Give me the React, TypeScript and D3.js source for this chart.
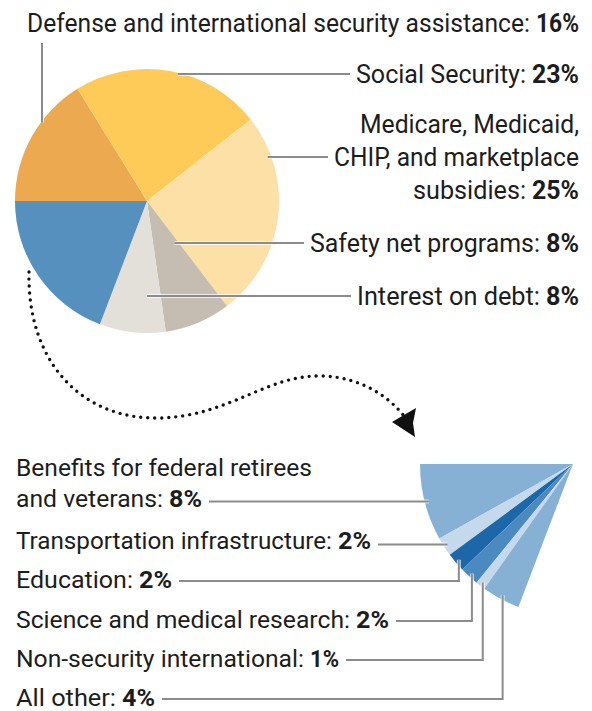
import React from "react";
import * as d3 from "d3";

// ---------- data ----------
const pieCategories = [
  "Defense and international security assistance",
  "Social Security",
  "Medicare, Medicaid, CHIP, and marketplace subsidies",
  "Safety net programs",
  "Interest on debt",
  "Other",
];
const pieValues = [16, 23, 25, 8, 8, 19];
const pieLabelLines = [
  ["Defense and international security assistance:"],
  ["Social Security:"],
  ["Medicare, Medicaid,", "CHIP, and marketplace", "subsidies:"],
  ["Safety net programs:"],
  ["Interest on debt:"],
];

const fanCategories = [
  "Benefits for federal retirees and veterans",
  "Transportation infrastructure",
  "Education",
  "Science and medical research",
  "Non-security international",
  "All other",
];
const fanValues = [8, 2, 2, 2, 1, 4];
const fanLabelLines = [
  ["Benefits for federal retirees", "and veterans:"],
  ["Transportation infrastructure:"],
  ["Education:"],
  ["Science and medical research:"],
  ["Non-security international:"],
  ["All other:"],
];

// ---------- styles / layout ----------
const W = 592;
const H = 711;
const pieColors = ["#EDA94F", "#FECB58", "#FDE0A5", "#C5BDB1", "#E3E0DA", "#5690BF"];
const fanColors = ["#86B0D4", "#C4D9EC", "#1B67A8", "#4B8AC1", "#C4D9EC", "#86B0D4"];
const FONT = "Roboto, 'Open Sans', sans-serif";
const FS_UP = 25;
const FS_LOW = 24;
const TEXT = "#1d1d1d";
const LINE = "#8c8c8c";

const PIE = { cx: 147, cy: 201, r: 132 };
const FAN = { cx: 573, cy: 464, r: 153 };

// upper labels: right aligned
const upRight = 579;
const upBaselines = [[32], [83], [133, 166, 199], [252], [305]];
const upWidths = [[552], [223], [219, 245, 166], [269], [222]];
const upLeaderRadius = [0.993, 0.99, 0.973, 0.38, 0.717];
const defenseLeaderX = 42;

// lower labels: left aligned
const lowLeft = 16;
const lowBaselines = [[476, 507], [549], [588], [628], [667], [706]];
const lowWidths = [[296, 186], [355], [156], [373], [323], [139]];

const boldCharW: Record<string, number> = { "1": 10, "%": 19 };
const boldWidth = (s: string) =>
  s.split("").reduce((acc, c) => acc + (boldCharW[c] ?? 14), 0);
const GAP = 6;

function Label({
  x,
  y,
  width,
  text,
  value,
  fs,
}: {
  x: number;
  y: number;
  width: number;
  text: string;
  value?: string;
  fs: number;
}) {
  if (!value) {
    return (
      <text
        x={x}
        y={y}
        textLength={width}
        lengthAdjust="spacingAndGlyphs"
        fontFamily={FONT}
        fontSize={fs}
        fill={TEXT}
      >
        {text}
      </text>
    );
  }
  const bw = boldWidth(value);
  const nw = width - bw - GAP;
  return (
    <g>
      <text
        x={x}
        y={y}
        textLength={nw}
        lengthAdjust="spacingAndGlyphs"
        fontFamily={FONT}
        fontSize={fs}
        fill={TEXT}
      >
        {text}
      </text>
      <text
        x={x + width - bw}
        y={y}
        textLength={bw}
        lengthAdjust="spacingAndGlyphs"
        fontFamily={FONT}
        fontSize={fs}
        fontWeight={700}
        fill={TEXT}
      >
        {value}
      </text>
    </g>
  );
}

export default function App() {
  const total = d3.sum(pieValues);
  const pie = d3
    .pie<number>()
    .sort(null)
    .value((d) => d)
    .startAngle(-Math.PI / 2)
    .endAngle((3 * Math.PI) / 2);
  const pieArcs = pie(pieValues);
  const arcGen = d3.arc<d3.PieArcDatum<number>>().innerRadius(0).outerRadius(PIE.r);

  const fanSum = d3.sum(fanValues);
  const fanPie = d3
    .pie<number>()
    .sort(null)
    .value((d) => d)
    .startAngle(-Math.PI / 2)
    .endAngle(-Math.PI / 2 - (2 * Math.PI * fanSum) / total);
  const fanArcs = fanPie(fanValues);
  const fanArcGen = d3.arc<d3.PieArcDatum<number>>().innerRadius(0).outerRadius(FAN.r);

  const line = d3.line();

  // upper leader paths
  const upLeaders: string[] = pieLabelLines.map((lines, i) => {
    const rr = PIE.r * upLeaderRadius[i];
    if (i === 0) {
      const dx = defenseLeaderX - PIE.cx;
      const ey = PIE.cy - Math.sqrt(rr * rr - dx * dx);
      return line([
        [defenseLeaderX, upBaselines[0][0] + 11],
        [defenseLeaderX, ey],
      ]) as string;
    }
    const li = lines.length > 1 ? 1 : 0;
    const y = upBaselines[i][li] - 9;
    const x0 = upRight - upWidths[i][li] - 6;
    const dy = y - PIE.cy;
    const ex = PIE.cx + Math.sqrt(Math.max(0, rr * rr - dy * dy));
    return line([
      [x0, y],
      [ex, y],
    ]) as string;
  });

  // lower leader paths
  const lowLeaders: string[] = fanArcs.map((a, i) => {
    const mid = (a.startAngle + a.endAngle) / 2;
    const rr = FAN.r - 4;
    const ex = FAN.cx + Math.sin(mid) * rr;
    const ey = FAN.cy - Math.cos(mid) * rr;
    const last = lowBaselines[i].length - 1;
    const y = lowBaselines[i][last] - 7;
    const x0 = lowLeft + lowWidths[i][last] + 7;
    const yy = Math.abs(ey - y) < 3 ? ey : y;
    return line([
      [x0, yy],
      [ex, yy],
      [ex, ey],
    ]) as string;
  });

  const curve = d3.path();
  curve.moveTo(29, 272);
  curve.bezierCurveTo(27, 360, 80, 420, 160, 418);
  curve.bezierCurveTo(230, 416, 268, 374, 322, 376);
  curve.bezierCurveTo(362, 377, 390, 398, 404, 416);

  return (
    <svg
      width={W}
      height={H}
      viewBox={`0 0 ${W} ${H}`}
      style={{ position: "absolute", left: 0, top: 0, background: "#fff" }}
    >
      <g transform={`translate(${PIE.cx},${PIE.cy})`}>
        {pieArcs.map((a, i) => (
          <path key={pieCategories[i]} d={arcGen(a) as string} fill={pieColors[i]} />
        ))}
      </g>
      <g transform={`translate(${FAN.cx},${FAN.cy})`}>
        {fanArcs.map((a, i) => (
          <path key={fanCategories[i]} d={fanArcGen(a) as string} fill={fanColors[i]} />
        ))}
      </g>

      {/* leaders */}
      {[...upLeaders, ...lowLeaders].map((d, i) => (
        <g key={"ld" + i} fill="none">
          <path d={d} stroke="#fff" strokeWidth={4} strokeOpacity={0.7} />
          <path d={d} stroke={LINE} strokeWidth={2} />
        </g>
      ))}

      {/* dotted curve + arrow */}
      <path
        d={curve.toString()}
        fill="none"
        stroke="#111"
        strokeWidth={3.4}
        strokeLinecap="round"
        strokeDasharray="0 7"
      />
      <path d="M392,422 L416,408 L413,423 L415,437 Z" fill="#111" />

      {/* upper labels */}
      {pieLabelLines.map((lines, i) =>
        lines.map((t, j) => {
          const isLast = j === lines.length - 1;
          const w = upWidths[i][j];
          return (
            <Label
              key={"u" + i + "-" + j}
              x={upRight - w}
              y={upBaselines[i][j]}
              width={w}
              text={t}
              fs={FS_UP}
              value={isLast ? pieValues[i] + "%" : undefined}
            />
          );
        })
      )}

      {/* lower labels */}
      {fanLabelLines.map((lines, i) =>
        lines.map((t, j) => {
          const isLast = j === lines.length - 1;
          return (
            <Label
              key={"l" + i + "-" + j}
              x={lowLeft}
              y={lowBaselines[i][j]}
              width={lowWidths[i][j]}
              text={t}
              fs={FS_LOW}
              value={isLast ? fanValues[i] + "%" : undefined}
            />
          );
        })
      )}
    </svg>
  );
}
